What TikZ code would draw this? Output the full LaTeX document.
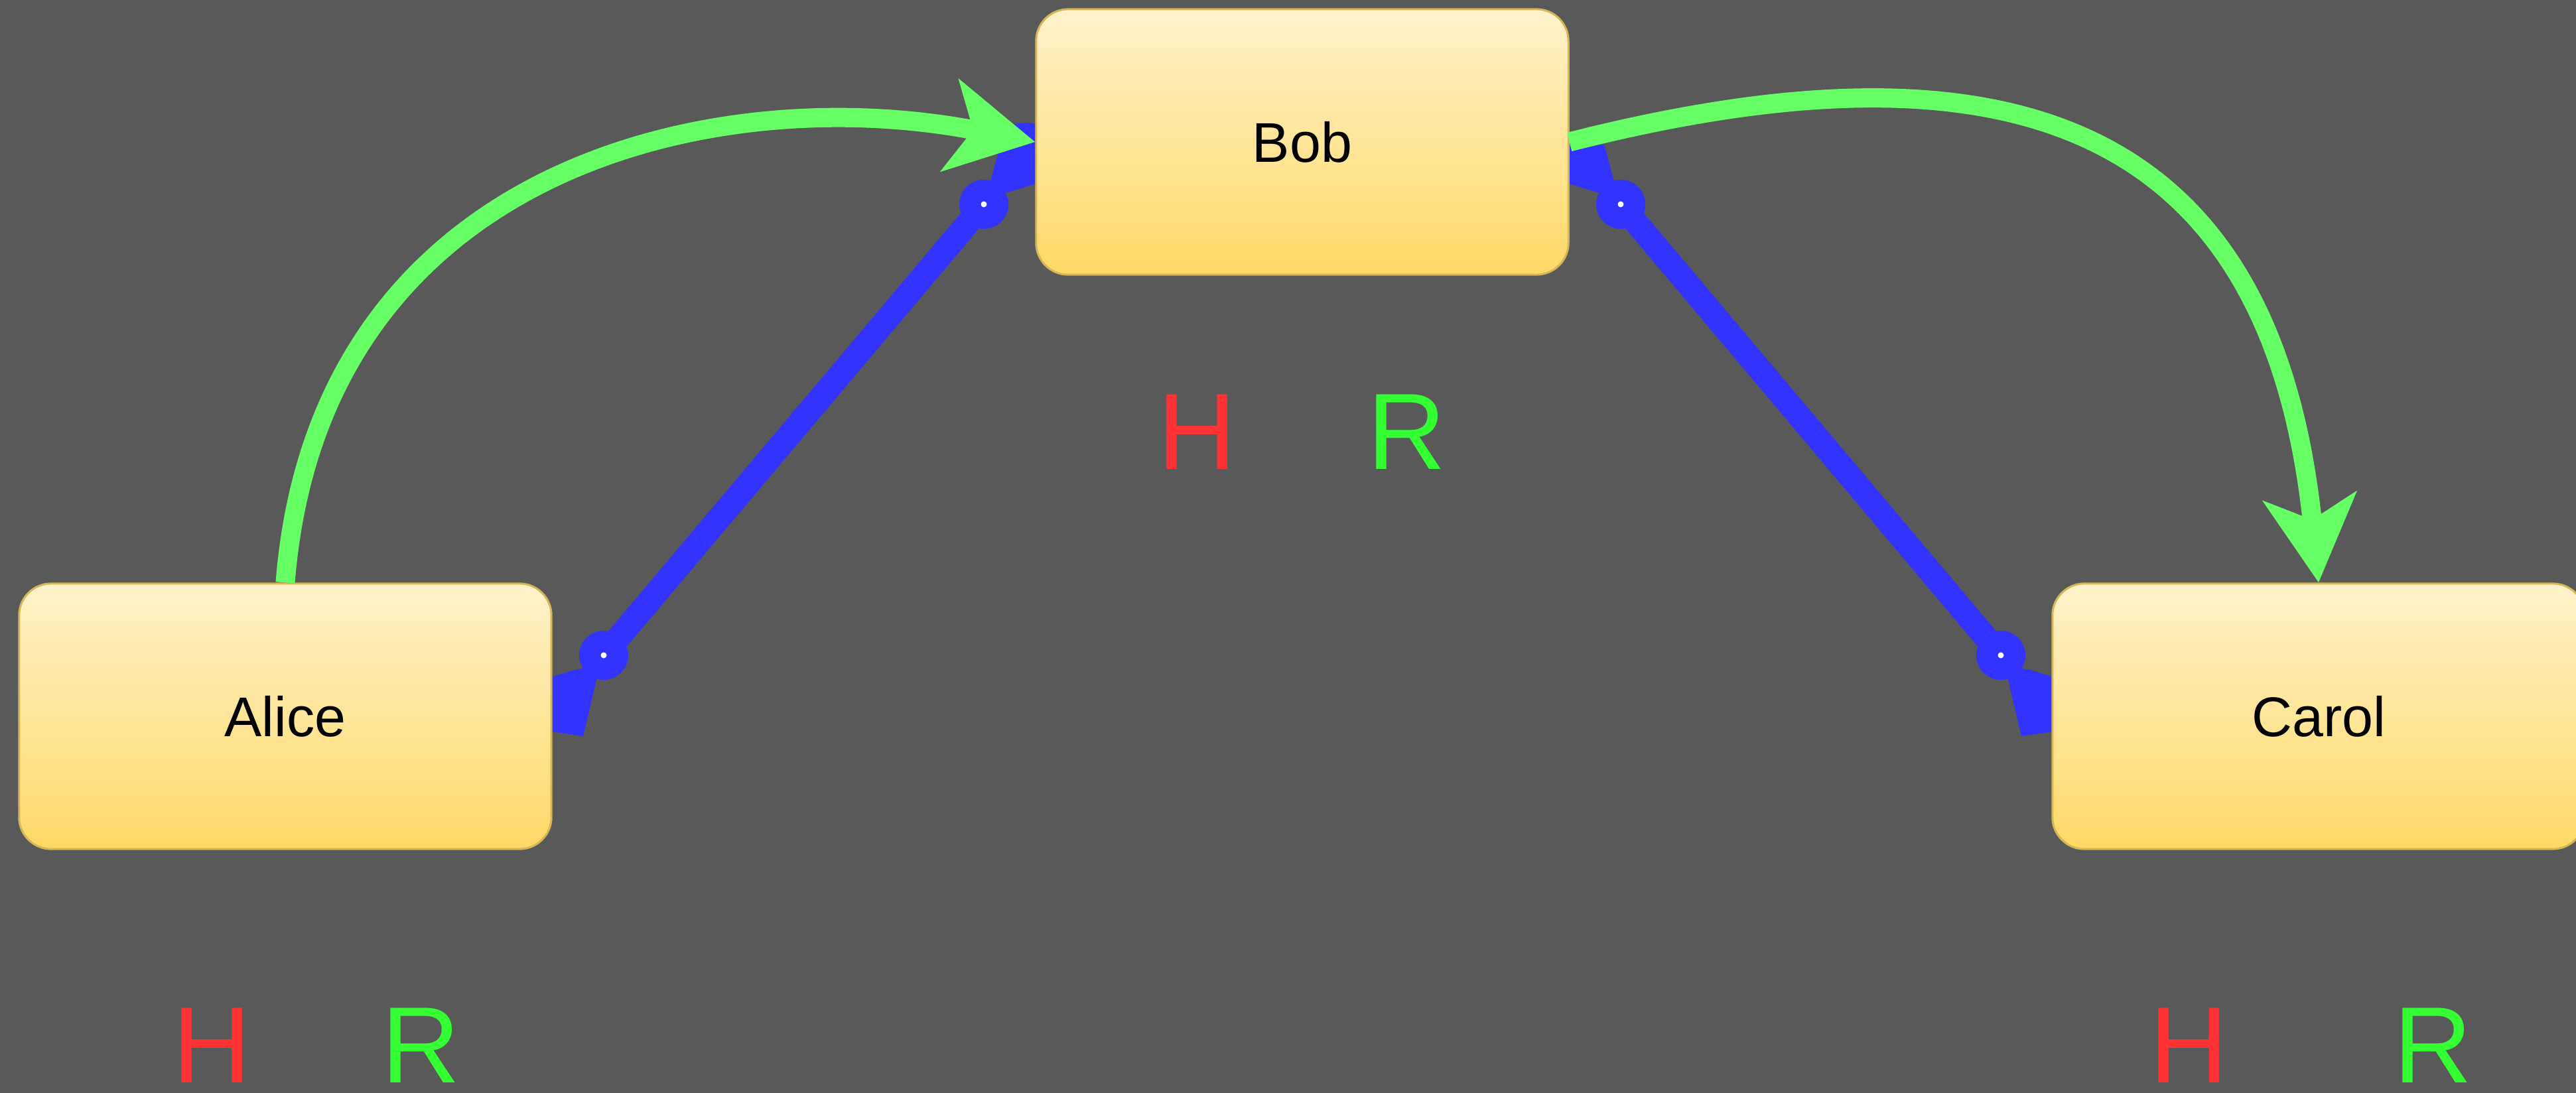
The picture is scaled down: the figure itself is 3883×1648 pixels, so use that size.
\documentclass[tikz,border=0pt]{standalone}
\usepackage{fontspec}
\setmainfont{Liberation Sans}
\usetikzlibrary{arrows.meta}
\definecolor{bgc}{HTML}{595959}
\definecolor{boxtop}{HTML}{FFF2CC}
\definecolor{boxbot}{HTML}{FFD966}
\definecolor{boxline}{HTML}{D6B656}
\definecolor{bluec}{HTML}{3333FF}
\definecolor{greenc}{HTML}{66FF66}
\definecolor{hred}{HTML}{FF3333}
\definecolor{rgreen}{HTML}{33FF33}
\begin{document}
\begin{tikzpicture}[x=0.01cm,y=-0.01cm,
  actor/.style={rounded corners=0.48cm, minimum width=8.02cm, minimum height=4.0cm, inner sep=0pt,
    draw=boxline, line width=0.03cm, top color=boxtop, bottom color=boxbot,
    font=\fontsize{24}{28}\selectfont, text=black},
  hr/.style={font=\fontsize{46.5}{50}\selectfont, inner sep=0pt},
  knob/.style={circle, fill=bluec, minimum size=0.74cm, inner sep=0pt},
  stub/.style={fill=bluec},
  link/.style={draw=bluec, line width=0.36cm},
  flow/.style={draw=greenc, line width=0.29cm, -{Stealth[length=1.3cm, width=1.4cm, inset=0.35cm]}},
]
\fill[bgc] (0,0) rectangle (3883,1648);
\useasboundingbox (0,0) rectangle (3883,1648);

% blue end stubs
\fill[stub] (926,1000) -- (899,1025) -- (879,1110) -- (846,1105) -- (806,1100) -- (806,1020) -- (834,1020) -- (866,1010) -- cycle;
\fill[stub] (3000,1000) -- (3027,1025) -- (3047,1110) -- (3080,1105) -- (3120,1100) -- (3120,1020) -- (3092,1020) -- (3060,1010) -- cycle;
\fill[stub] (1466,285) -- (1493,273) -- (1508,218) -- (1525,187) -- (1553,185) -- (1600,200) -- (1600,285) -- (1561,277) -- (1519,290) -- cycle;
\fill[stub] (2460,285) -- (2433,273) -- (2418,218) -- (2330,225) -- (2330,285) -- (2365,277) -- (2407,290) -- cycle;

% blue connectors with round end markers
\node[knob] (a1) at (910,988) {};
\node[knob] (b1) at (1483,308) {};
\node[knob] (b2) at (2443,308) {};
\node[knob] (c1) at (3016,988) {};
\draw[link] (a1.center) -- (b1.center);
\draw[link] (b2.center) -- (c1.center);
\foreach \k in {a1,b1,b2,c1} \fill[white] (\k.center) circle (0.045cm);

% boxes
\node[actor] (alice) at (430,1080) {Alice};
\node[actor] (bob) at (1963,214) {Bob};
\node[actor] (carol) at (3495,1080) {Carol};

% green arrows
\draw[flow] (alice.north) .. controls (480,250) and (1080,120) .. (bob.west);
\draw[flow] (bob.east) .. controls (3050,40) and (3425,200) .. (carol.north);

% labels
\node[hr, text=hred] (bobH) at (1805,651) {H};
\node[hr, text=rgreen] (bobR) at (2121,651) {R};
\node[hr, text=hred] (aliceH) at (320,1576) {H};
\node[hr, text=rgreen] (aliceR) at (635,1576) {R};
\node[hr, text=hred] (carolH) at (3300,1576) {H};
\node[hr, text=rgreen] (carolR) at (3668,1576) {R};
\end{tikzpicture}
\end{document}
